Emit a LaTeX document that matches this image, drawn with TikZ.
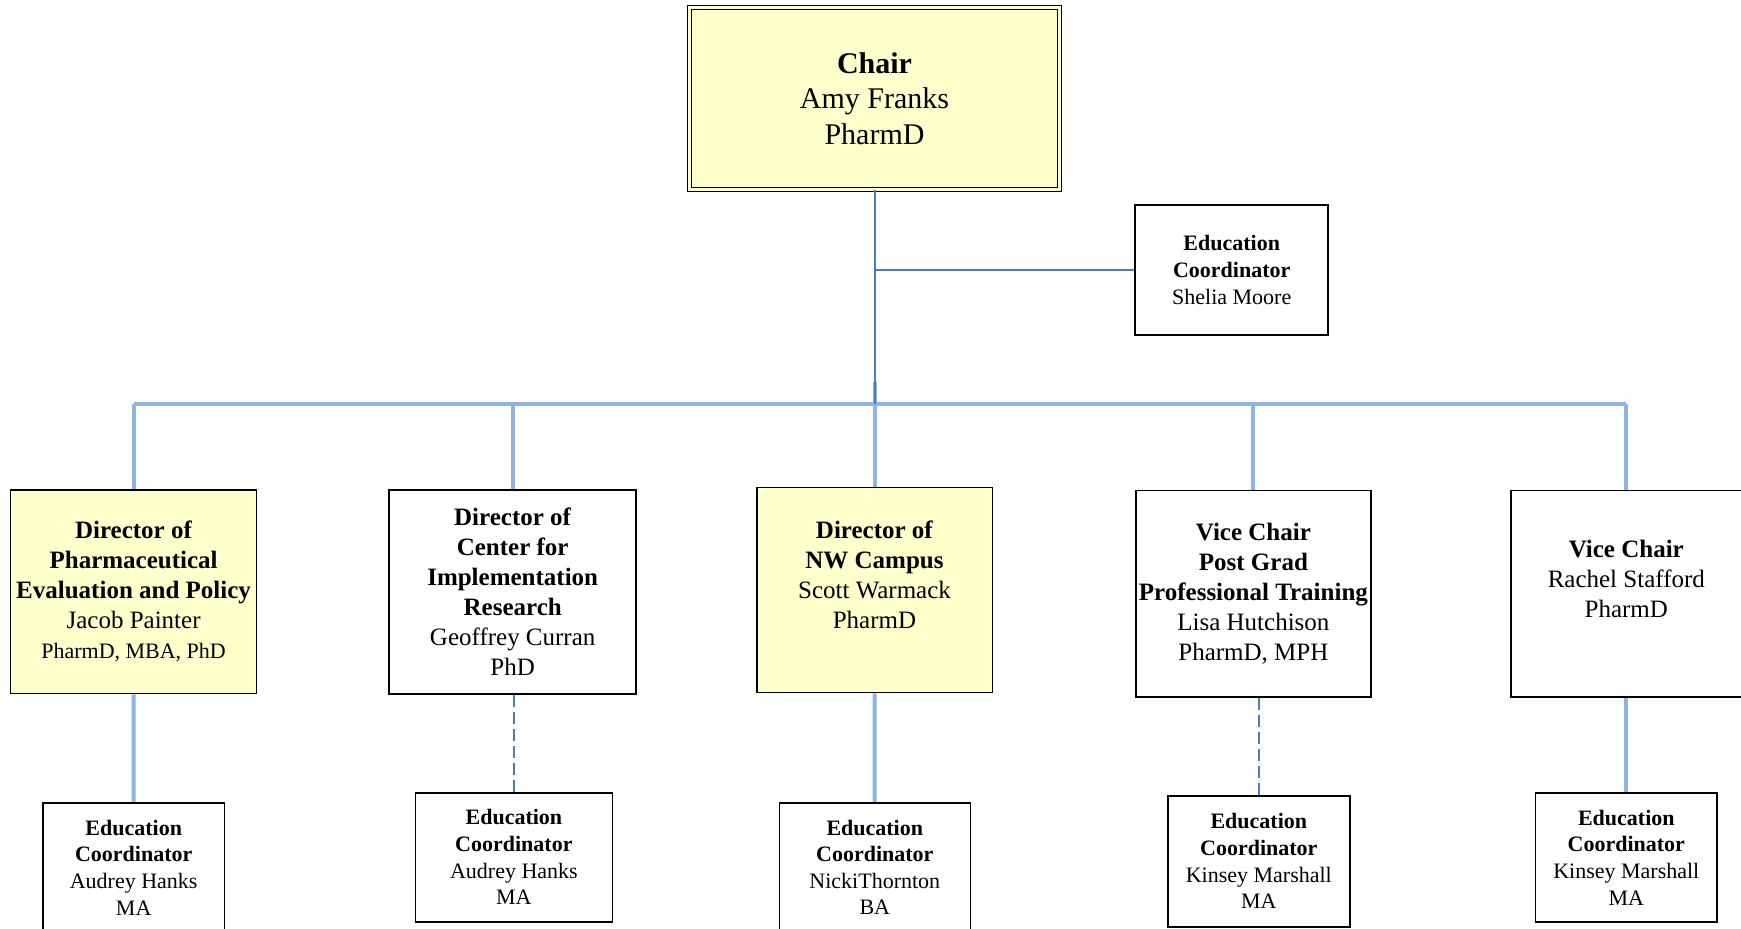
\documentclass[tikz,border=0pt]{standalone}
\usepackage{fontspec}
\setmainfont{Liberation Serif}
\usepackage{xcolor}
\definecolor{chairyellow}{HTML}{FFFFCC}
\definecolor{linkblue}{HTML}{4A7EBB}
\definecolor{busblue}{HTML}{8DB4E2}

\begin{document}
\begin{tikzpicture}[x=1pt,y=-1pt,
    every node/.style={draw,line width=1.6pt,align=center,inner sep=0pt},
    chairbox/.style={fill=chairyellow,double=chairyellow,double distance=3pt,line width=1.4pt,font=\fontsize{30}{35.5}\selectfont},
    dirbox/.style={font=\fontsize{25}{30}\selectfont},
    edubox/.style={font=\fontsize{22}{26.6}\selectfont},
    busline/.style={busblue,line width=4pt},
    link/.style={linkblue,line width=2pt}]
    \useasboundingbox (0,0) rectangle (1741,929);
    \clip (0,0) rectangle (1741,929);
    % top of the chart
    \node[chairbox,minimum width=370,minimum height=182] (ch) at (874.5,98.5) {\textbf{Chair}\\Amy Franks\\PharmD};
    \node[edubox,minimum width=193,minimum height=130] (sm) at (1231.7,270) {\textbf{Education}\\\textbf{Coordinator}\\Shelia Moore};
    % directors and vice chairs
    \node[dirbox,fill=chairyellow,minimum width=246,minimum height=203.5] (pe) at (133.6,591.8) {\textbf{Director of}\\\textbf{Pharmaceutical}\\\textbf{Evaluation and Policy}\\Jacob Painter\\{\fontsize{22}{30}\selectfont PharmD, MBA, PhD}};
    \node[dirbox,minimum width=247,minimum height=204] (ci) at (512.7,592) {\textbf{Director of}\\\textbf{Center for}\\\textbf{Implementation}\\\textbf{Research}\\Geoffrey Curran\\PhD};
    \node[dirbox,fill=chairyellow,minimum width=235.6,minimum height=205] (nw) at (874.5,590) {\textbf{Director of}\\\textbf{NW Campus}\\Scott Warmack\\PharmD\\\mbox{}};
    \node[dirbox,minimum width=235,minimum height=206.4] (pg) at (1253.4,593.5) {\textbf{Vice Chair}\\\textbf{Post Grad}\\\textbf{Professional Training}\\Lisa Hutchison\\PharmD, MPH};
    \node[dirbox,minimum width=231,minimum height=206.4] (vc) at (1626.3,593.5) {\textbf{Vice Chair}\\Rachel Stafford\\PharmD\\\mbox{}};
    % education coordinators
    \node[edubox,minimum width=181.4,minimum height=129.6] (ah1) at (133.7,867.5) {\textbf{Education}\\\textbf{Coordinator}\\Audrey Hanks\\MA};
    \node[edubox,minimum width=197,minimum height=129] (ah2) at (513.9,857.2) {\textbf{Education}\\\textbf{Coordinator}\\Audrey Hanks\\MA};
    \node[edubox,minimum width=191,minimum height=129.4] (nt) at (874.8,867.4) {\textbf{Education}\\\textbf{Coordinator}\\NickiThornton\\BA};
    \node[edubox,minimum width=182,minimum height=131] (km1) at (1258.8,861.2) {\textbf{Education}\\\textbf{Coordinator}\\Kinsey Marshall\\MA};
    \node[edubox,minimum width=181.4,minimum height=128.7] (km2) at (1626.3,857.6) {\textbf{Education}\\\textbf{Coordinator}\\Kinsey Marshall\\MA};
    % connectors
    \coordinate (bus) at (874.5,404);
    \draw[busline] (pe.north |- bus) -- (vc.north |- bus);
    \foreach \n in {pe,ci,pg,vc}
      \draw[busline] (\n.north |- bus) -- (\n.north);
    \draw[busline] ([yshift=22pt]bus) -- (nw.north);
    \foreach \a/\b in {pe/ah1,nw/nt,vc/km2}
      \draw[busline] (\a) -- (\b);
    \draw[link,dash pattern=on 12pt off 5pt] (ci.south -| ah2.north) -- (ah2.north);
    \draw[link,dash pattern=on 12pt off 5pt] (pg.south -| km1.north) -- (km1.north);
    \draw[link] (ch) -- (bus);
    \draw[link] (ch.south |- sm.west) -- (sm.west);
\end{tikzpicture}
\end{document}
